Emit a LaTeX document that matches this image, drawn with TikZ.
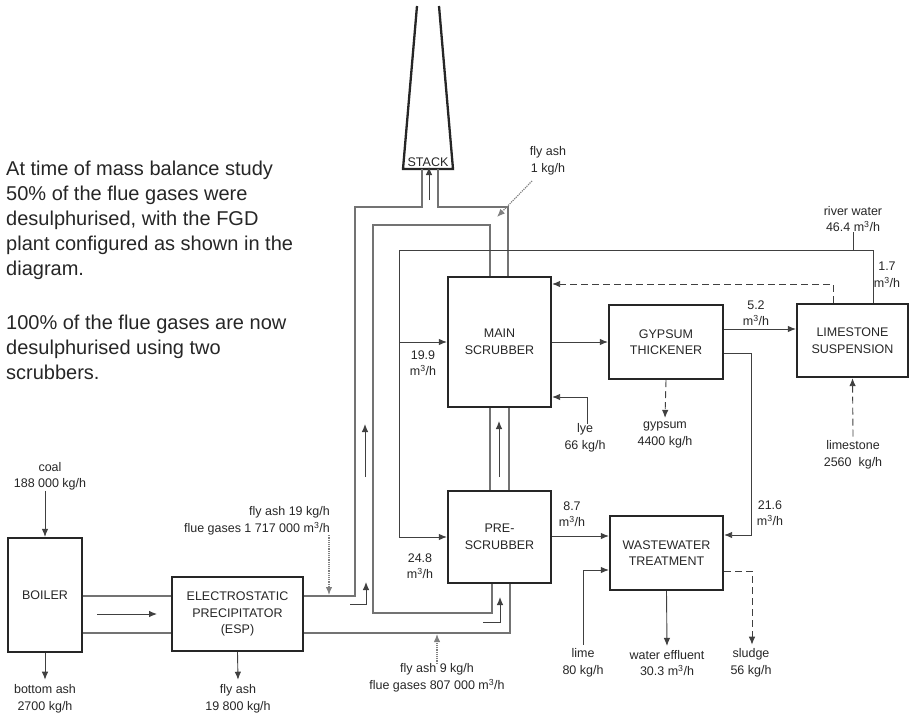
\documentclass[tikz,border=0pt]{standalone}
\usepackage{fontspec}
\setmainfont{Liberation Sans}
\usetikzlibrary{arrows.meta,calc,positioning}

\newcommand{\lblsize}{\fontsize{12.5}{16.5}\selectfont}
\newcommand{\notesize}{\fontsize{20}{25}\selectfont}
\newcommand{\cubic}{m\textsuperscript{3}/h}

\begin{document}
\begin{tikzpicture}[x=1pt, y=-1pt, >=Latex]

% ------------------------------------------------
% Styles
% ------------------------------------------------
\tikzset{
    box/.style={draw=black!85, line width=2.3pt, inner sep=0pt, align=center, font=\lblsize, text=black!85},
    lbl/.style={inner sep=0pt, align=center, font=\lblsize, text=black!85},
    pipe/.style={line width=0.9pt, black!75},
    duct/.style={line width=1.1pt, black!55},
    flow/.style={pipe, -{Latex[length=8pt,width=6.5pt]}},
    dflow/.style={flow, dash pattern=on 7pt off 4pt},
    ash/.style={flow, line width=1.2pt, densely dotted, black!50},
}

\useasboundingbox (0,0) rectangle (911,717);

% ------------------------------------------------
% Note
% ------------------------------------------------
\node[anchor=north west, inner sep=0pt, align=left, font=\notesize, text=black!85] (note) at (6,161)
    {At time of mass balance study\\50\% of the flue gases were\\desulphurised, with the FGD\\plant configured as shown in the\\diagram.\\[29pt]100\% of the flue gases are now\\desulphurised using two\\scrubbers.};

% ------------------------------------------------
% Units
% ------------------------------------------------
\node[box, minimum width=74pt,  minimum height=114pt] (boiler) at (45,595)    {BOILER};
\node[box, minimum width=131pt, minimum height=74pt]  (esp)    at (237.5,614) {ELECTROSTATIC\\PRECIPITATOR\\(ESP)};
\node[box, minimum width=103pt, minimum height=130pt] (main)   at (499.5,342) {MAIN\\SCRUBBER};
\node[box, minimum width=103pt, minimum height=92pt]  (pre)    at (499.5,537) {PRE-\\SCRUBBER};
\node[box, minimum width=114pt, minimum height=74pt]  (gyp)    at (666,342)   {GYPSUM\\THICKENER};
\node[box, minimum width=111pt, minimum height=73pt]  (lime)   at (852.5,340.5) {LIMESTONE\\SUSPENSION};
\node[box, minimum width=113pt, minimum height=74pt]  (wwt)    at (666.5,553) {WASTEWATER\\TREATMENT};

% stack
\draw[line width=2.3pt, black!85] (417,6) -- (403,169) -- (453,169) -- (439,6);
\node[lbl, anchor=south] (stack) at (428,167) {STACK};

% ------------------------------------------------
% Labels
% ------------------------------------------------
\node[lbl] (coal)    at (50,476.5)  {coal\\188 000 kg/h};
\node[lbl] (botash)  at (45,699)    {bottom ash\\2700 kg/h};
\node[lbl] (espash)  at (238,699)   {fly ash\\19 800 kg/h};
\node[lbl, anchor=east, align=right] (bypass) at (330,521) {fly ash 19 kg/h\\flue gases 1 717 000 \cubic};
\node[lbl] (fgdgas)  at (437,678)   {fly ash 9 kg/h\\flue gases 807 000 \cubic};
\node[lbl] (stkash)  at (548,161)   {fly ash\\1 kg/h};
\node[lbl] (river)   at (853,219)   {river water\\46.4 \cubic};
\node[lbl] (q17)     at (887,275)   {1.7\\\cubic};
\node[lbl] (q199)    at (423,363)   {19.9\\\cubic};
\node[lbl] (q248)    at (420,566)   {24.8\\\cubic};
\node[lbl] (q52)     at (756,313)   {5.2\\\cubic};
\node[lbl] (q87)     at (572,514)   {8.7\\\cubic};
\node[lbl] (q216)    at (770,513)   {21.6\\\cubic};
\node[lbl] (lye)     at (585,438)   {lye\\66 kg/h};
\node[lbl] (gypsum)  at (665,435)   {gypsum\\4400 kg/h};
\node[lbl] (stone)   at (853,455)   {limestone\\2560~ kg/h};
\node[lbl] (limein)  at (583,663)   {lime\\80 kg/h};
\node[lbl] (water)   at (667,663)   {water effluent\\30.3 \cubic};
\node[lbl] (sludge)  at (751,663)   {sludge\\56 kg/h};

% ------------------------------------------------
% Flue gas ducts
% ------------------------------------------------
\draw[duct] (boiler.east |- 0,596) -- (esp.west |- 0,596);
\draw[duct] (boiler.east |- 0,633) -- (esp.west |- 0,633);
\draw[flow] (97,614) -- (157,614);

\draw[duct] (esp.east |- 0,596) -- (355,596) -- (355,207) -- (422,207) -- (422,169);
\draw[duct] (438,169) -- (438,207) -- (508,207) -- (main.north -| 508,0);
\draw[duct] (main.north -| 490,0) -- (490,225) -- (373,225) -- (373,613) -- (492,613) -- (pre.south -| 492,0);
\draw[duct] (esp.east |- 0,633) -- (510,633) -- (pre.south -| 510,0);
\draw[duct] (main.south -| 490,0) -- (pre.north -| 490,0);
\draw[duct] (main.south -| 509,0) -- (pre.north -| 509,0);

% gas direction
\draw[flow] (350,604) -- (366,604) -- (366,582);
\draw[flow] (365,477) -- (365,424);
\draw[flow] (429,200) -- (stack.south -| 429,0);
\draw[flow] (483,622) -- (500,622) -- (500,597);
\draw[flow] (499,477) -- (499,421);

% fly ash in gases
\draw[ash] (bypass.south -| 329,0) -- (329,595);
\draw[ash] (fgdgas.north -| 437,0) -- (437,634);
\draw[ash] (532,181) -- (497,217);

% ------------------------------------------------
% Solids
% ------------------------------------------------
\draw[flow] (coal.south -| boiler.north) -- (boiler.north);
\draw[flow] (boiler.south) -- ($(botash.north -| boiler.south)+(0,-5)$);
\draw[flow] (esp.south) -- ($(espash.north)+(0,-5)$);

% ------------------------------------------------
% Water and slurry
% ------------------------------------------------
\coordinate (rw) at (873,250);
\draw[pipe] (lime.north -| rw) -- (rw) -- (399,250) -- (399,537);
\draw[pipe] (river.south -| 853,0) -- (853,250);
\draw[flow] (399,342) -- (main.west);
\draw[flow] (399,537) -- (pre.west);

\draw[flow] (main.east) -- (gyp.west);
\draw[flow] (gyp.east |- 0,329) -- (lime.west |- 0,329);
\draw[flow] (gyp.east |- 0,353) -- (751,353) -- (751,535) -- (wwt.east |- 0,535);
\draw[dflow] (lime.north -| 833,0) -- (833,284) -- (main.east |- 0,284);
\draw[flow] (lye.north -| 587,0) -- (587,397) -- (main.east |- 0,397);
\draw[dflow] (gyp.south) -- ($(gypsum.north)+(0,-4)$);
\draw[dflow] ($(stone.north)+(0,-4)$) -- (lime.south);

\draw[flow] (pre.east |- 0,536) -- (wwt.west |- 0,536);
\draw[flow] ($(limein.north)+(0,-4)$) -- (583,570) -- (wwt.west |- 0,570);
\draw[flow] (wwt.south) -- ($(water.north)+(0,-4)$);
\draw[dflow] (wwt.east |- 0,571) -- (752,571) -- ($(sludge.north -| 752,0)+(0,-4)$);

\end{tikzpicture}
\end{document}
